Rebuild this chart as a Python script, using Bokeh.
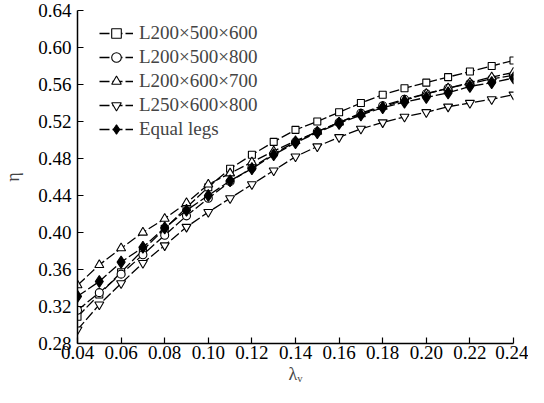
from bokeh.plotting import figure
from bokeh.embed import file_html
from bokeh.resources import INLINE
from bokeh.models import FixedTicker, NumeralTickFormatter, Legend, LegendItem
from bokeh.core.properties import value

x = [0.04, 0.05, 0.06, 0.07, 0.08, 0.09, 0.10, 0.11, 0.12, 0.13, 0.14,
     0.15, 0.16, 0.17, 0.18, 0.19, 0.20, 0.21, 0.22, 0.23, 0.24]

s_500_600 = [0.309, 0.333, 0.357, 0.381, 0.404, 0.427, 0.449, 0.469, 0.484, 0.498, 0.511,
             0.520, 0.530, 0.540, 0.549, 0.556, 0.562, 0.568, 0.574, 0.580, 0.586]
s_500_800 = [0.316, 0.335, 0.355, 0.376, 0.397, 0.418, 0.437, 0.455, 0.470, 0.485, 0.498,
             0.509, 0.519, 0.529, 0.537, 0.544, 0.550, 0.556, 0.561, 0.566, 0.570]
s_600_700 = [0.343, 0.365, 0.383, 0.400, 0.415, 0.432, 0.452, 0.464, 0.476, 0.488, 0.499,
             0.509, 0.519, 0.528, 0.536, 0.543, 0.550, 0.556, 0.562, 0.568, 0.573]
s_250_800 = [0.295, 0.322, 0.345, 0.367, 0.386, 0.406, 0.422, 0.437, 0.452, 0.467, 0.482,
             0.493, 0.503, 0.512, 0.519, 0.525, 0.530, 0.536, 0.540, 0.544, 0.549]
s_equal = [0.331, 0.347, 0.368, 0.384, 0.405, 0.424, 0.440, 0.456, 0.469, 0.484, 0.497,
           0.508, 0.518, 0.527, 0.535, 0.541, 0.546, 0.551, 0.558, 0.562, 0.567]

labels = ["L200×500×600", "L200×500×800", "L200×600×700", "L250×600×800", "Equal legs"]
x_ticks = [0.04, 0.06, 0.08, 0.10, 0.12, 0.14, 0.16, 0.18, 0.20, 0.22, 0.24]
y_ticks = [0.28, 0.32, 0.36, 0.40, 0.44, 0.48, 0.52, 0.56, 0.60, 0.64]

FONT = "Liberation Serif"

p = figure(width=528, height=387, output_backend="svg", toolbar_location=None,
           x_range=(0.04, 0.24), y_range=(0.28, 0.64),
           min_border_left=66, min_border_right=15, min_border_top=10, min_border_bottom=44)
p.outline_line_color = None
p.xgrid.visible = False
p.ygrid.visible = False

series = [s_500_600, s_500_800, s_600_700, s_250_800, s_equal]
markers = ["square", "circle", "triangle", "inverted_triangle", "diamond"]
sizes = [7, 8, 9, 9, 12]
items = []
for ys, m, sz, lab in zip(series, markers, sizes, labels):
    filled = (m == "diamond")
    r1 = p.line(x, ys, line_color="black", line_width=1.3, line_dash="10 3")
    r2 = p.scatter(x, ys, marker=m, size=sz, line_color="black", line_width=1.1,
                   fill_color="black" if filled else "white")
    items.append(LegendItem(label=lab, renderers=[r1, r2]))

legend = Legend(items=items, location=(22, 202), padding=0, margin=0, spacing=0,
                glyph_width=34, glyph_height=24, label_height=24, label_standoff=6,
                label_text_font=FONT, label_text_font_size="19px",
                background_fill_alpha=0, border_line_color=None)
p.add_layout(legend)

for ax in (p.xaxis[0], p.yaxis[0]):
    ax.major_label_text_font = FONT
    ax.major_label_text_font_size = "19px"
    ax.major_label_text_color = "black"
    ax.axis_label_text_font = FONT
    ax.axis_label_text_font_style = "normal"
    ax.axis_label_text_font_size = "18px"
    ax.major_tick_in = 6
    ax.major_tick_out = 0
    ax.minor_tick_in = 0
    ax.minor_tick_out = 0
    ax.axis_line_width = 1.5
    ax.major_tick_line_width = 1.2

p.xaxis.ticker = FixedTicker(ticks=x_ticks)
p.yaxis.ticker = FixedTicker(ticks=y_ticks)
p.xaxis.formatter = NumeralTickFormatter(format="0.00")
p.yaxis.formatter = NumeralTickFormatter(format="0.00")
p.xaxis.axis_label = "λᵥ"
p.yaxis.axis_label = "η"
p.xaxis.major_label_standoff = 2
p.yaxis.major_label_standoff = 6
p.xaxis.axis_label_standoff = 2
p.yaxis.axis_label_standoff = 12

open("out.html", "w").write(file_html(p, INLINE))
